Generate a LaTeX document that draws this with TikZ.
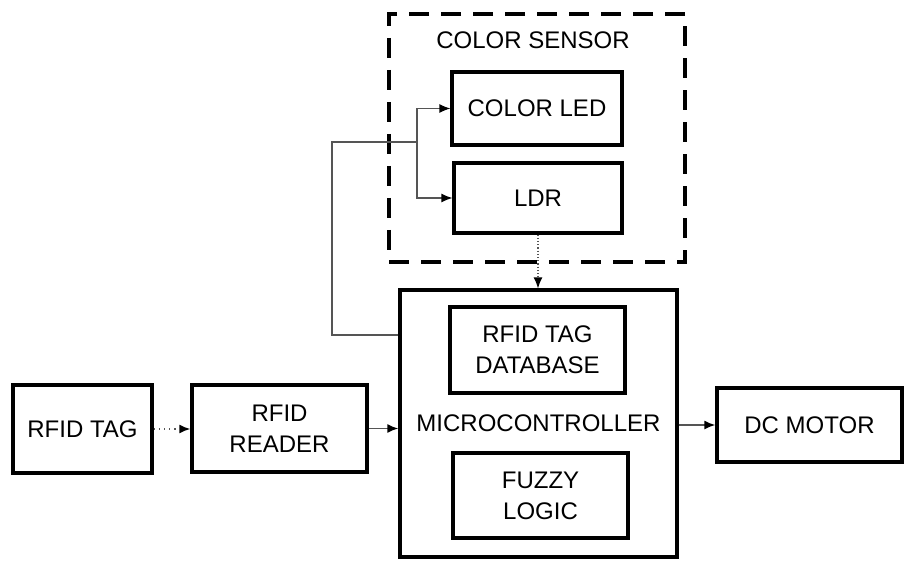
\documentclass[tikz,border=0pt]{standalone}
\usepackage{fontspec}
\setmainfont{Liberation Sans}
\usetikzlibrary{arrows.meta,positioning}
\definecolor{wire-grey}{HTML}{555555}

\begin{document}
\begin{tikzpicture}[x=0.5pt,y=-0.5pt,
    block/.style={draw,line width=1.6pt,font=\fontsize{12}{15.5}\selectfont,align=center,inner sep=0pt},
    wire/.style={wire-grey,line width=0.6pt},
    feed/.style={wire,-{Latex[length=5.5pt,width=4.5pt,color=black]}}]
  \useasboundingbox (0,0) rectangle (904,561);
  % colour sensor group
  \node[draw,line width=2pt,dash pattern=on 10pt off 6pt,minimum width=148pt,minimum height=124pt] (sensor) at (537,138) {};
  \node[font=\fontsize{12}{13}\selectfont] (sensorlabel) at (533,40) {COLOR SENSOR};
  \node[block,minimum width=85pt,minimum height=36.5pt] (led) at (537,108.5) {COLOR LED};
  \node[block,minimum width=84pt,minimum height=35pt] (ldr) at (538,198) {LDR};
  % main chain
  \node[block,minimum width=69.5pt,minimum height=44pt] (tag) at (82.5,429) {RFID TAG};
  \node[block,minimum width=87.5pt,minimum height=43.5pt] (reader) at (279.5,428.5) {RFID\\READER};
  \node[block,minimum width=138.5pt,minimum height=133.5pt] (mcu) at (538.5,423.5) {MICROCONTROLLER};
  \node[block,minimum width=87.5pt,minimum height=43pt] (db) at (537.5,350) {RFID TAG\\DATABASE};
  \node[block,minimum width=87.5pt,minimum height=42.5pt] (fuzzy) at (540.5,495.5) {FUZZY\\LOGIC};
  \node[block,minimum width=92.5pt,minimum height=37pt] (motor) at (809.5,425) {DC MOTOR};
  % connectors
  \coordinate (tap) at (332,335);
  \coordinate (jn) at (417,142);
  \draw[wire] (tap -| mcu.west) -- (tap) |- (jn);
  \draw[feed] (jn) |- (led.west);
  \draw[feed] (jn) |- (ldr.west);
  \draw[feed,densely dotted] (ldr.south) -- (ldr.south |- mcu.north);
  \draw[feed,dotted,line width=0.9pt] (tag.east) -- (tag.east -| reader.west);
  \draw[feed,line width=0.9pt] (reader.east) -- (reader.east -| mcu.west);
  \draw[feed,line width=0.9pt] (motor.west -| mcu.east) -- (motor.west);
\end{tikzpicture}
\end{document}
